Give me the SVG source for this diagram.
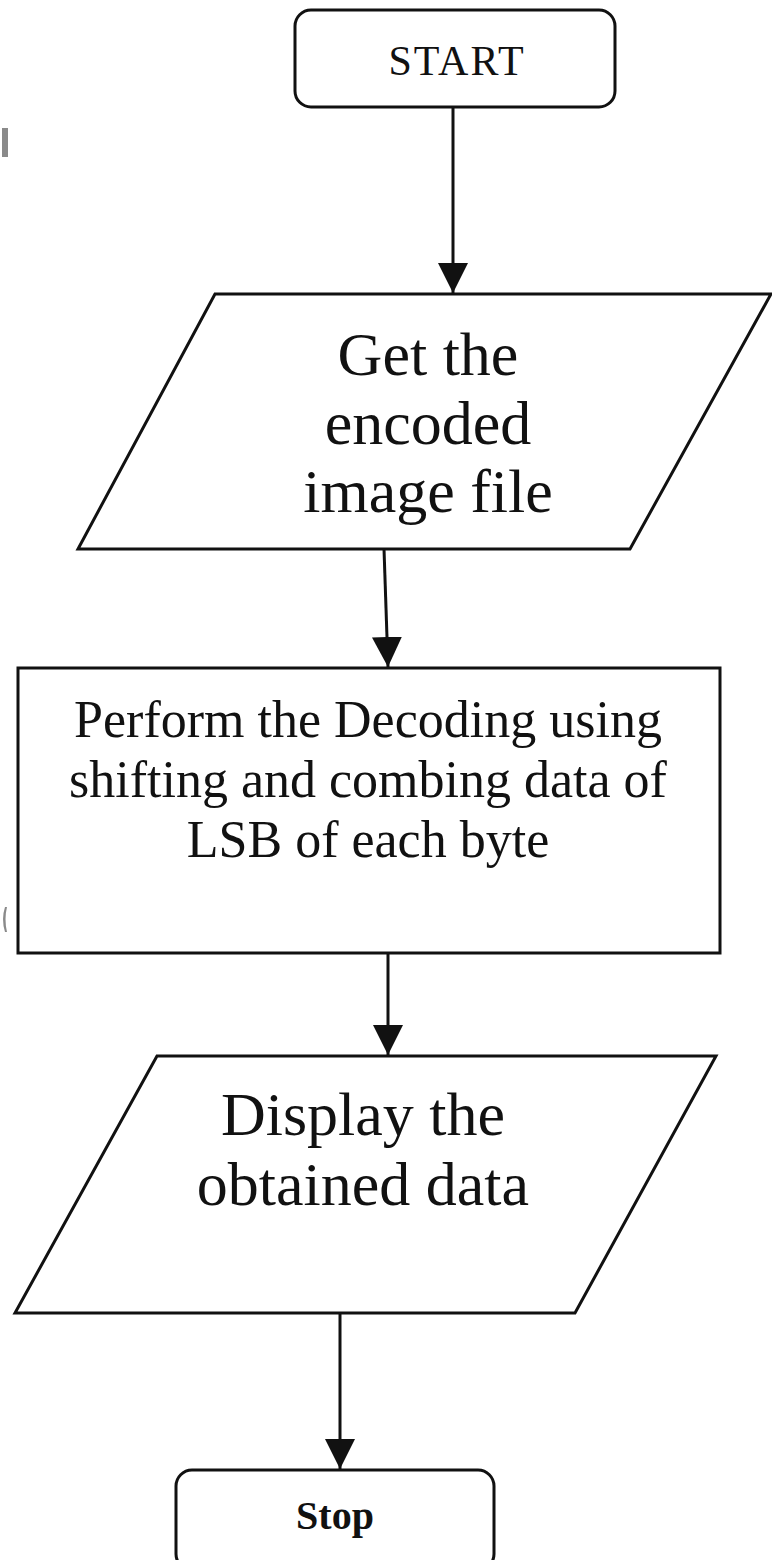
<svg xmlns="http://www.w3.org/2000/svg" width="772" height="1560" viewBox="0 0 772 1560">
  <style>
    .shape { fill: #ffffff; stroke: #111111; stroke-width: 3; }
    .edge { fill: none; stroke: #111111; stroke-width: 3; }
    .lbl { font-family: "Liberation Serif", "Times New Roman", serif; fill: #111111; text-anchor: middle; }
    .big { font-size: 62px; }
    .mid { font-size: 52px; }
    .term { font-size: 42px; letter-spacing: 2px; }
    .bold { font-size: 40px; font-weight: bold; }
    .mark { fill: #8a8a8a; }
  </style>
  <defs>
    <marker id="head" markerUnits="userSpaceOnUse" markerWidth="32" markerHeight="32" viewBox="0 0 32 32" refX="30" refY="16" orient="auto">
      <path d="M0,1 L30,16 L0,31 Z" fill="#111111"/>
    </marker>
  </defs>

  <rect width="772" height="1560" fill="#ffffff"/>

  <!-- stray marks in the left margin -->
  <rect class="mark" x="2" y="128" width="6" height="29"/>
  <path class="mark" d="M5,907 Q1,919 5,932 L7,932 Q4,919 7,907 Z"/>

  <!-- connectors -->
  <g id="connectors">
    <line class="edge" x1="453" y1="107" x2="453" y2="293" marker-end="url(#head)"/>
    <line class="edge" x1="384" y1="549" x2="388" y2="667" marker-end="url(#head)"/>
    <line class="edge" x1="388" y1="953" x2="388" y2="1055" marker-end="url(#head)"/>
    <line class="edge" x1="340" y1="1313" x2="340" y2="1469" marker-end="url(#head)"/>
  </g>

  <g id="start">
    <rect class="shape" x="295" y="10" width="320" height="97" rx="16" ry="16"/>
    <text class="lbl term" x="457" y="75">START</text>
  </g>

  <g id="get-image">
    <polygon class="shape" points="215,294 771,294 630,549 78,549"/>
    <text class="lbl big" x="428" y="375">Get the</text>
    <text class="lbl big" x="428" y="444">encoded</text>
    <text class="lbl big" x="428" y="512">image file</text>
  </g>

  <g id="decode">
    <rect class="shape" x="18" y="668" width="702" height="285"/>
    <text class="lbl mid" x="368" y="737">Perform the Decoding using</text>
    <text class="lbl mid" x="368" y="797">shifting and combing data of</text>
    <text class="lbl mid" x="368" y="857">LSB of each byte</text>
  </g>

  <g id="display">
    <polygon class="shape" points="157,1056 716,1056 575,1313 15,1313"/>
    <text class="lbl big" x="363" y="1135">Display the</text>
    <text class="lbl big" x="363" y="1205">obtained data</text>
  </g>

  <g id="stop">
    <rect class="shape" x="176" y="1470" width="318" height="100" rx="16" ry="16"/>
    <text class="lbl bold" x="335" y="1529">Stop</text>
  </g>
</svg>
